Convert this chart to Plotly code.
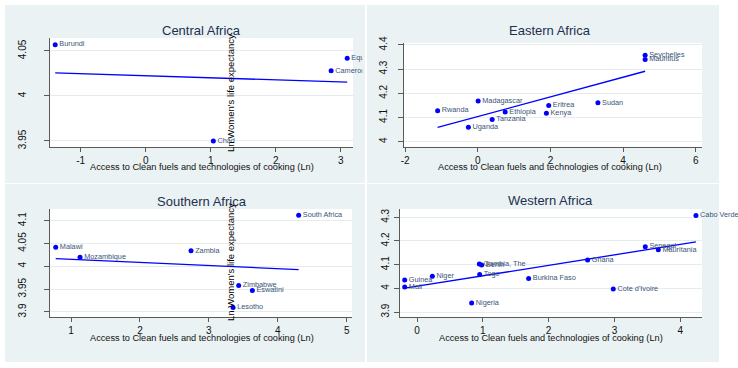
import numpy as np
import plotly.graph_objects as go

W, H = 738, 368

# ---------------- data ----------------
central_countries = ["Burundi", "Equatorial Guinea", "Cameroon", "Chad"]
central_x = [-1.39, 3.097, 2.85, 1.04]
central_y = [4.057, 4.042, 4.028, 3.950]

eastern_countries = ["Seychelles", "Mauritius", "Madagascar", "Rwanda", "Ethiopia",
                     "Tanzania", "Uganda", "Eritrea", "Kenya", "Sudan"]
eastern_x = [4.605, 4.605, 0.01, -1.105, 0.755, 0.396, -0.258, 1.952, 1.888, 3.306]
eastern_y = [4.357, 4.340, 4.168, 4.128, 4.123, 4.092, 4.059, 4.149, 4.117, 4.161]

southern_countries = ["South Africa", "Malawi", "Mozambique", "Zambia", "Zimbabwe",
                      "Eswatini", "Lesotho"]
southern_x = [4.303, 0.778, 1.131, 2.741, 3.433, 3.631, 3.351]
southern_y = [4.112, 4.042, 4.020, 4.034, 3.958, 3.947, 3.910]

western_countries = ["Cabo Verde", "Senegal", "Mauritania", "Ghana", "Gambia, The", "Benin",
                     "Togo", "Niger", "Guinea", "Mali", "Burkina Faso", "Cote d'Ivoire", "Nigeria"]
western_x = [4.238, 3.468, 3.666, 2.592, 0.947, 0.982, 0.952, 0.233, -0.187, -0.187,
             1.696, 2.982, 0.830]
western_y = [4.308, 4.176, 4.163, 4.120, 4.103, 4.099, 4.058, 4.051, 4.035, 4.006,
             4.042, 3.997, 3.938]

central_xticks = [-1, 0, 1, 2, 3]
central_yticks = [3.95, 4, 4.05]
central_yticktext = ["3.95", "4", "4.05"]
eastern_xticks = [-2, 0, 2, 4, 6]
eastern_yticks = [4, 4.1, 4.2, 4.3, 4.4]
eastern_yticktext = ["4", "4.1", "4.2", "4.3", "4.4"]
southern_xticks = [1, 2, 3, 4, 5]
southern_yticks = [3.9, 3.95, 4, 4.05, 4.1]
southern_yticktext = ["3.9", "3.95", "4", "4.05", "4.1"]
western_xticks = [0, 1, 2, 3, 4]
western_yticks = [3.9, 4, 4.1, 4.2, 4.3]
western_yticktext = ["3.9", "4", "4.1", "4.2", "4.3"]

titles = ["Central Africa", "Eastern Africa", "Southern Africa", "Western Africa"]
x_title = "Access to Clean fuels and technologies of cooking (Ln)"
y_title = "Ln Women's life expectancy"

# ---------------- layout geometry (pixels) ----------------
def fx(p):
    return p / W

def fy(p):
    return 1 - p / H

FONT = "Liberation Sans, Arial, sans-serif"
BG = "#EAF2F3"
MARK = "#0000FF"
LABC = "#3A5577"
TITC = "#1E3050"

panels = [
    dict(name="central", xs=central_x, ys=central_y, lab=central_countries,
         plot=(50, 353, 38, 147), xr=(-1.470, 3.186), yr=(3.9433, 4.0644),
         xt=central_xticks, yt=central_yticks, ytt=central_yticktext, stand=14,
         panel=(5, 365, 5, 183), title=(201.5, 31), xtit=(201.5, 167), clip=362.5),
    dict(name="eastern", xs=eastern_x, ys=eastern_y, lab=eastern_countries,
         plot=(404, 702, 43, 146.7), xr=(-2.03, 6.17), yr=(3.979, 4.408),
         xt=eastern_xticks, yt=eastern_yticks, ytt=eastern_yticktext, stand=7,
         panel=(367, 719, 5, 183), title=(550, 31), xtit=(550, 167), clip=None),
    dict(name="southern", xs=southern_x, ys=southern_y, lab=southern_countries,
         plot=(50, 352, 209, 317), xr=(0.695, 5.077), yr=(3.889, 4.1256),
         xt=southern_xticks, yt=southern_yticks, ytt=southern_yticktext, stand=14,
         panel=(5, 365, 184, 362), title=(201.5, 201), xtit=(201.5, 338), clip=None),
    dict(name="western", xs=western_x, ys=western_y, lab=western_countries,
         plot=(399.7, 702, 209, 317), xr=(-0.263, 4.33), yr=(3.879, 4.335),
         xt=western_xticks, yt=western_yticks, ytt=western_yticktext, stand=1,
         panel=(367, 719, 184, 362), title=(550.5, 200.7), xtit=(550.5, 338), clip=None),
]

fig = go.Figure()
layout = dict(
    width=W, height=H, margin=dict(l=0, r=0, t=0, b=0, autoexpand=False),
    paper_bgcolor="white", plot_bgcolor="rgba(0,0,0,0)",
    showlegend=False, font=dict(family=FONT, size=9, color="#111"),
)
shapes = []
annotations = []

for i, p in enumerate(panels):
    k = i + 1
    xa = "x" if k == 1 else f"x{k}"
    ya = "y" if k == 1 else f"y{k}"
    x0, x1, y0, y1 = p["plot"]
    px0, px1, py0, py1 = p["panel"]
    # panel background and plot region
    shapes.append(dict(type="rect", xref="paper", yref="paper", x0=fx(px0), x1=fx(px1),
                       y0=fy(py1), y1=fy(py0), fillcolor=BG, line=dict(width=0), layer="below"))
    shapes.append(dict(type="rect", xref="paper", yref="paper", x0=fx(x0), x1=fx(x1),
                       y0=fy(y1), y1=fy(y0), fillcolor="white", line=dict(width=0), layer="below"))
    layout["xaxis" if k == 1 else f"xaxis{k}"] = dict(
        domain=[fx(x0), fx(x1)], range=list(p["xr"]), anchor=ya, automargin=False,
        showline=True, linecolor="#5a5a5a", linewidth=1, ticks="outside", ticklen=4,
        tickcolor="#5a5a5a", tickvals=p["xt"], ticktext=[str(v) for v in p["xt"]],
        tickfont=dict(size=10, color="#111"), showgrid=False, zeroline=False)
    layout["yaxis" if k == 1 else f"yaxis{k}"] = dict(
        domain=[fy(y1), fy(y0)], range=list(p["yr"]), anchor=xa, automargin=False,
        showline=True, linecolor="#5a5a5a", linewidth=1, ticks="outside", ticklen=5,
        tickcolor="#5a5a5a", tickvals=p["yt"], ticktext=p["ytt"], tickangle=-90,
        ticklabelstandoff=p["stand"],
        tickfont=dict(size=10, color="#111"), showgrid=True, gridcolor="#E4ECEE",
        gridwidth=1, zeroline=False)

    # fitted line
    xs = np.array(p["xs"])
    ys = np.array(p["ys"])
    b, a = np.polyfit(xs, ys, 1)
    fxs = np.array([xs.min(), xs.max()])
    fig.add_trace(go.Scatter(x=fxs, y=a + b * fxs, mode="lines", xaxis=xa, yaxis=ya,
                             line=dict(color=MARK, width=1.3), hoverinfo="skip"))
    # markers with labels
    if p["clip"] is not None:
        # separate hidden axes whose domain ends at the clipping edge
        ext = (p["clip"] - x0) / (x1 - x0)
        xr0, xr1 = p["xr"]
        yr0, yr1 = p["yr"]
        ppu = (y1 - y0) / (yr1 - yr0)
        layout["xaxis5"] = dict(domain=[fx(x0 - 10), fx(p["clip"])],
                                range=[xr0 - (xr1 - xr0) * 10 / (x1 - x0),
                                       xr0 + (xr1 - xr0) * ext],
                                visible=False, anchor="y5", showgrid=False, automargin=False)
        layout["yaxis5"] = dict(domain=[fy(py1), fy(y0 - 20)],
                                range=[yr0 - (py1 - y1) / ppu, yr1 + 20 / ppu],
                                visible=False, anchor="x5", showgrid=False, automargin=False)
        fig.add_trace(go.Scatter(x=p["xs"], y=p["ys"], mode="markers+text", text=p["lab"],
                                 textposition="middle right", xaxis="x5", yaxis="y5",
                                 marker=dict(color=MARK, size=5),
                                 textfont=dict(size=7.3, color=LABC), cliponaxis=True))
    else:
        fig.add_trace(go.Scatter(x=p["xs"], y=p["ys"], mode="markers+text", text=p["lab"],
                                 textposition="middle right", xaxis=xa, yaxis=ya,
                                 marker=dict(color=MARK, size=5),
                                 textfont=dict(size=7.3, color=LABC), cliponaxis=False))

    tx, ty = p["title"]
    annotations.append(dict(text=titles[i], x=fx(tx), y=fy(ty), xref="paper", yref="paper",
                            showarrow=False, xanchor="center", yanchor="middle",
                            font=dict(size=13, color=TITC)))
    ax_, ay_ = p["xtit"]
    annotations.append(dict(text=x_title, x=fx(ax_), y=fy(ay_), xref="paper", yref="paper",
                            showarrow=False, xanchor="center", yanchor="middle",
                            font=dict(size=9.2, color="#111")))

# y-axis titles placed in the middle of each row
for cy in (93, 262):
    annotations.append(dict(text=y_title, x=fx(230), y=fy(cy), xref="paper", yref="paper",
                            showarrow=False, textangle=-90, xanchor="center", yanchor="middle",
                            font=dict(size=9.5, color="#000")))

layout["shapes"] = shapes
layout["annotations"] = annotations
fig.update_layout(**layout)
fig.write_html("out.html", config={"displayModeBar": False},
               post_script="document.body.style.margin='0';document.body.style.overflow='hidden';")
